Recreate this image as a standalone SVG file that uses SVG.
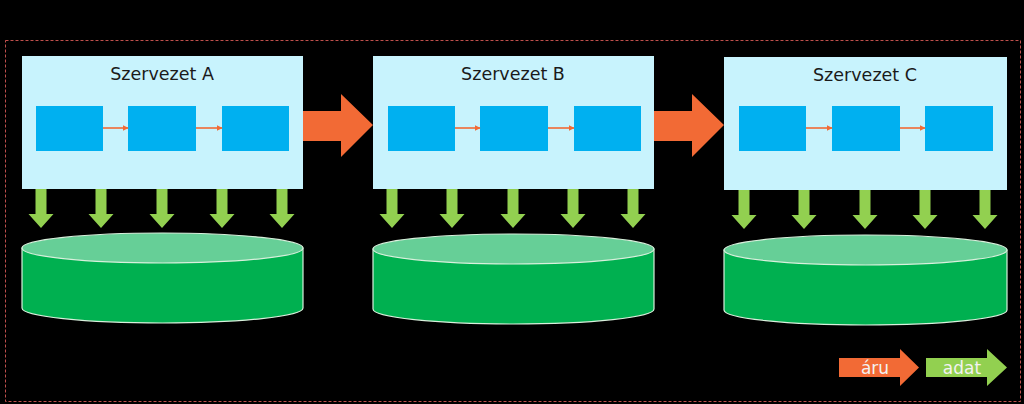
<svg xmlns="http://www.w3.org/2000/svg" width="1024" height="404" viewBox="0 0 1024 404">
<defs>
<style>
.org{fill:#c8f3fd}
.step{fill:#00b0f0}
.title{font-family:"DejaVu Sans",Verdana,sans-serif;font-size:17.5px;fill:#1a1a1a;text-anchor:middle}
.flow{fill:#f26a35}
.data{fill:#92d050}
.cyl-body{fill:#00b050;stroke:#d8f0dc;stroke-width:1.2}
.cyl-top{fill:#66cf97;stroke:#d8f0dc;stroke-width:1.2}
.leg{font-family:"DejaVu Sans",Verdana,sans-serif;font-size:17px;fill:#f2f2f2;text-anchor:middle}
.small{stroke:#f26a35;stroke-width:1.6;fill:none}
</style>
<marker id="ah" viewBox="0 0 10 10" refX="9" refY="5" markerWidth="6" markerHeight="6" orient="auto" markerUnits="userSpaceOnUse">
<path d="M0,0 L10,5 L0,10 z" fill="#f26a35"/>
</marker>
<path id="down" d="M-5.5,0 H5.5 V25 H12.5 L0,39 L-12.5,25 H-5.5 Z"/>
</defs>
<rect x="0" y="0" width="1024" height="404" fill="#000"/>
<rect x="5.5" y="40.5" width="1015" height="361" fill="none" stroke="#c0504d" stroke-width="1" stroke-dasharray="3,2"/>

<g id="orgA">
<rect class="org" x="22" y="56" width="281" height="133"/>
<text class="title" x="162" y="80">Szervezet A</text>
<rect class="step" x="36" y="106" width="67" height="45"/>
<rect class="step" x="128" y="106" width="68" height="45"/>
<rect class="step" x="222" y="106" width="67" height="45"/>
</g>
<g id="orgB">
<rect class="org" x="373" y="56" width="281" height="133"/>
<text class="title" x="513" y="80">Szervezet B</text>
<rect class="step" x="388" y="106" width="67" height="45"/>
<rect class="step" x="480" y="106" width="68" height="45"/>
<rect class="step" x="574" y="106" width="67" height="45"/>
</g>
<g id="orgC">
<rect class="org" x="724" y="57" width="283" height="133"/>
<text class="title" x="865" y="81">Szervezet C</text>
<rect class="step" x="739" y="106" width="67" height="45"/>
<rect class="step" x="832" y="106" width="68" height="45"/>
<rect class="step" x="925" y="106" width="68" height="45"/>
</g>

<g id="dbA">
<path class="cyl-body" d="M22,248 V308 A140.5,15 0 0 0 303,308 V248 Z"/>
<ellipse class="cyl-top" cx="162.5" cy="248" rx="140.5" ry="15"/>
</g>
<g id="dbB">
<path class="cyl-body" d="M373,249 V309 A140.5,15 0 0 0 654,309 V249 Z"/>
<ellipse class="cyl-top" cx="513.5" cy="249" rx="140.5" ry="15"/>
</g>
<g id="dbC">
<path class="cyl-body" d="M724,250 V310 A141.5,15 0 0 0 1007,310 V250 Z"/>
<ellipse class="cyl-top" cx="865.5" cy="250" rx="141.5" ry="15"/>
</g>

<g id="connectors">
<path class="flow" d="M303,111 H341 V94 L373,125 L341,157 V141 H303 Z"/>
<path class="flow" d="M654,111 H692 V94 L724,125 L692,157 V141 H654 Z"/>
<line class="small" x1="103" y1="128" x2="128" y2="128" marker-end="url(#ah)"/>
<line class="small" x1="196" y1="128" x2="222" y2="128" marker-end="url(#ah)"/>
<line class="small" x1="455" y1="128" x2="480" y2="128" marker-end="url(#ah)"/>
<line class="small" x1="548" y1="128" x2="574" y2="128" marker-end="url(#ah)"/>
<line class="small" x1="806" y1="128" x2="832" y2="128" marker-end="url(#ah)"/>
<line class="small" x1="900" y1="128" x2="925" y2="128" marker-end="url(#ah)"/>
<g class="data">
<use href="#down" x="41" y="189"/><use href="#down" x="101" y="189"/><use href="#down" x="162" y="189"/><use href="#down" x="222" y="189"/><use href="#down" x="282" y="189"/>
<use href="#down" x="392" y="189"/><use href="#down" x="452" y="189"/><use href="#down" x="513" y="189"/><use href="#down" x="573" y="189"/><use href="#down" x="633" y="189"/>
<use href="#down" x="744" y="190"/><use href="#down" x="804" y="190"/><use href="#down" x="865" y="190"/><use href="#down" x="925" y="190"/><use href="#down" x="985" y="190"/>
</g>
</g>

<g id="legend">
<path class="flow" d="M839,358 H900 V349 L919,367.5 L900,386 V377 H839 Z"/>
<text class="leg" x="875" y="374">áru</text>
<path class="data" d="M926,358 H987 V349 L1007,367.5 L987,386 V377 H926 Z"/>
<text class="leg" x="962" y="374">adat</text>
</g>
</svg>
